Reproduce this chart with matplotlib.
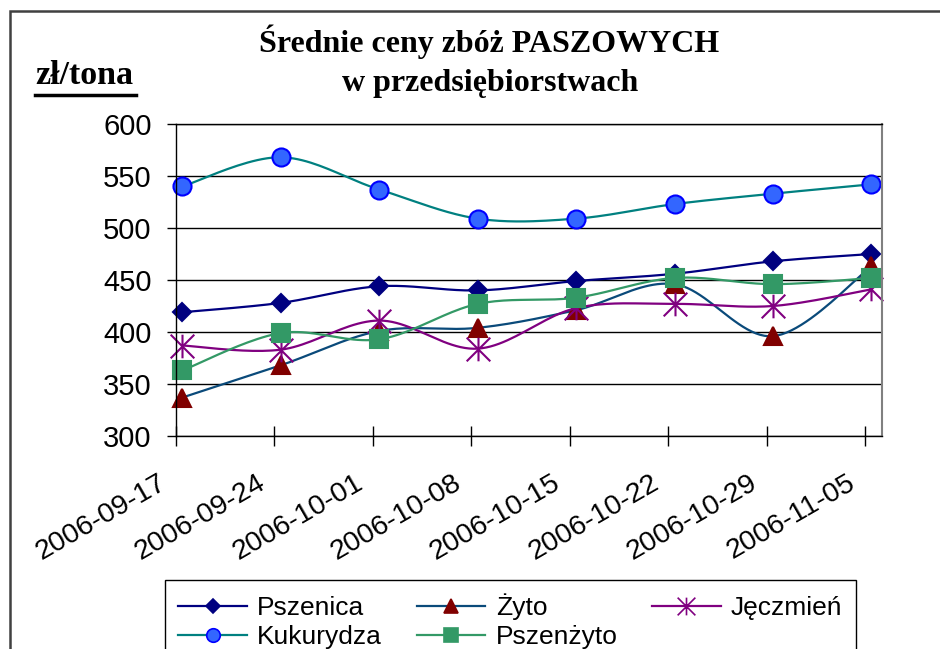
import matplotlib
matplotlib.use("Agg")
import matplotlib.pyplot as plt
import matplotlib.dates as mdates
import matplotlib.transforms as mtransforms
from matplotlib.lines import Line2D
from matplotlib.path import Path
from matplotlib.patches import Rectangle
import numpy as np

plt.rcParams.update({
    "font.family": ["Liberation Sans", "DejaVu Sans"],
    "font.size": 19,
})

# ── Data ──
dates = ["2006-09-17", "2006-09-24", "2006-10-01", "2006-10-08",
         "2006-10-15", "2006-10-22", "2006-10-29", "2006-11-05"]
pszenica = [419, 428, 444, 440, 449, 456, 468, 475]
zyto = [337, 368, 401, 404, 421, 446, 396, 463]
jeczmien = [387, 383, 411, 384, 423, 427, 425, 441]
kukurydza = [540, 568, 537, 509, 509, 523, 533, 542]
pszenzyto = [363, 399, 393, 427, 433, 452, 446, 452]

# ── Styles ──
star = Path([(0, -1), (0, 1), (-1, -1), (1, 1), (-1, 1), (1, -1)],
            [Path.MOVETO, Path.LINETO] * 3)
series = [
    # label, values, line color, marker, face, edge, size
    ("Pszenica", pszenica, "#000080", "D", "#000080", "#000080", 9.5),
    ("Żyto", zyto, "#0a4a7a", "^", "#800000", "#800000", 13),
    ("Jęczmień", jeczmien, "#800080", star, "none", "#800080", 17),
    ("Kukurydza", kukurydza, "#008080", "o", "#3366ff", "#0000ff", 13),
    ("Pszenżyto", pszenzyto, "#339966", "s", "#339966", "#339966", 12.5),
]


def smooth(x, y, n=24):
    """Excel-like smoothed line (Catmull-Rom as cubic Bezier)."""
    pts = np.column_stack([x, y]).astype(float)
    P = np.vstack([pts[0], pts, pts[-1]])
    t = np.linspace(0, 1, n)[:, None]
    out = []
    for i in range(1, len(P) - 2):
        p0, p1, p2, p3 = P[i - 1], P[i], P[i + 1], P[i + 2]
        c1 = p1 + (p2 - p0) / 6
        c2 = p2 - (p3 - p1) / 6
        seg = ((1 - t) ** 3 * p1 + 3 * (1 - t) ** 2 * t * c1
               + 3 * (1 - t) * t ** 2 * c2 + t ** 3 * p2)
        out.append(seg if i == 1 else seg[1:])
    return np.vstack(out)


W, H = 940, 649
fig = plt.figure(figsize=(W / 100, H / 100), dpi=100)
ax = fig.add_axes([176 / W, 1 - 436 / H, (882 - 176) / W, (436 - 124) / H])

xt = mdates.datestr2num(dates)
xd = xt + 0.45  # data points sit slightly right of the ticks

handles = {}
for label, vals, lc, mk, fc, ec, ms in series:
    sm = smooth(xd, vals)
    ax.plot(sm[:, 0], sm[:, 1], color=lc, lw=1.6, clip_on=False)
    ax.plot(xd, vals, ls="none", marker=mk, ms=ms, mfc=fc, mec=ec,
            mew=1.5, clip_on=False)
    handles[label] = Line2D([], [], color=lc, lw=1.6, marker=mk,
                            ms=ms * 0.75, mfc=fc, mec=ec, mew=1.2)

ax.set_xlim(xt[0], xt[0] + 50.2)
ax.set_ylim(300, 600)
ax.set_yticks(np.arange(300, 601, 50))
ax.set_xticks(xt)
ax.set_xticklabels(dates, rotation=30, ha="right", va="baseline",
                   rotation_mode="anchor")
ax.grid(axis="y", color="black", lw=1)
ax.set_axisbelow(True)
ax.tick_params(axis="y", direction="out", length=6.5, width=1, pad=11,
               labelsize=21)
ax.tick_params(axis="x", direction="inout", length=14, width=1, pad=30,
               labelsize=20.5)
shift = mtransforms.ScaledTranslation(-0.08, 0, fig.dpi_scale_trans)
for lbl in ax.get_xticklabels():
    lbl.set_transform(lbl.get_transform() + shift)
for s in ("left", "bottom", "top"):
    ax.spines[s].set_color("black")
    ax.spines[s].set_linewidth(1)
ax.spines["right"].set_color("#808080")
ax.spines["right"].set_linewidth(1.5)

# ── Titles ──
fig.text(489 / W, 1 - 42 / H, "Średnie ceny zbóż PASZOWYCH", ha="center",
         va="center", family="Liberation Serif", fontweight="bold",
         fontsize=23)
fig.text(490 / W, 1 - 84 / H, "w przedsiębiorstwach", ha="center",
         va="center", family="Liberation Serif", fontweight="bold",
         fontsize=23)
fig.text(35 / W, 1 - 76 / H, "zł/tona", ha="left", va="center",
         family="Liberation Serif", fontweight="bold", fontsize=24.5)
fig.add_artist(Line2D([35 / W, 136 / W], [1 - 95 / H, 1 - 95 / H],
                      color="black", lw=2.5))

# ── Chart border ──
fig.add_artist(Rectangle((10 / W, -0.2), 1.2, 1.2 - 11 / H,
                         transform=fig.transFigure, fill=False,
                         edgecolor="#404040", lw=1.8))

# ── Legend ──
order = ["Pszenica", "Kukurydza", "Żyto", "Pszenżyto", "Jęczmień"]
leg = fig.legend([handles[k] for k in order], order, loc="upper left",
                 bbox_to_anchor=(165 / W, 1 - 580 / H), ncol=3,
                 frameon=True, fancybox=False, edgecolor="black",
                 framealpha=1, fontsize=19, borderaxespad=0,
                 handlelength=2.6, handletextpad=0.4, columnspacing=1.3,
                 labelspacing=0.2, borderpad=0.5)
leg.get_frame().set_linewidth(1)

fig.savefig("out.png", dpi=100, facecolor="white")
